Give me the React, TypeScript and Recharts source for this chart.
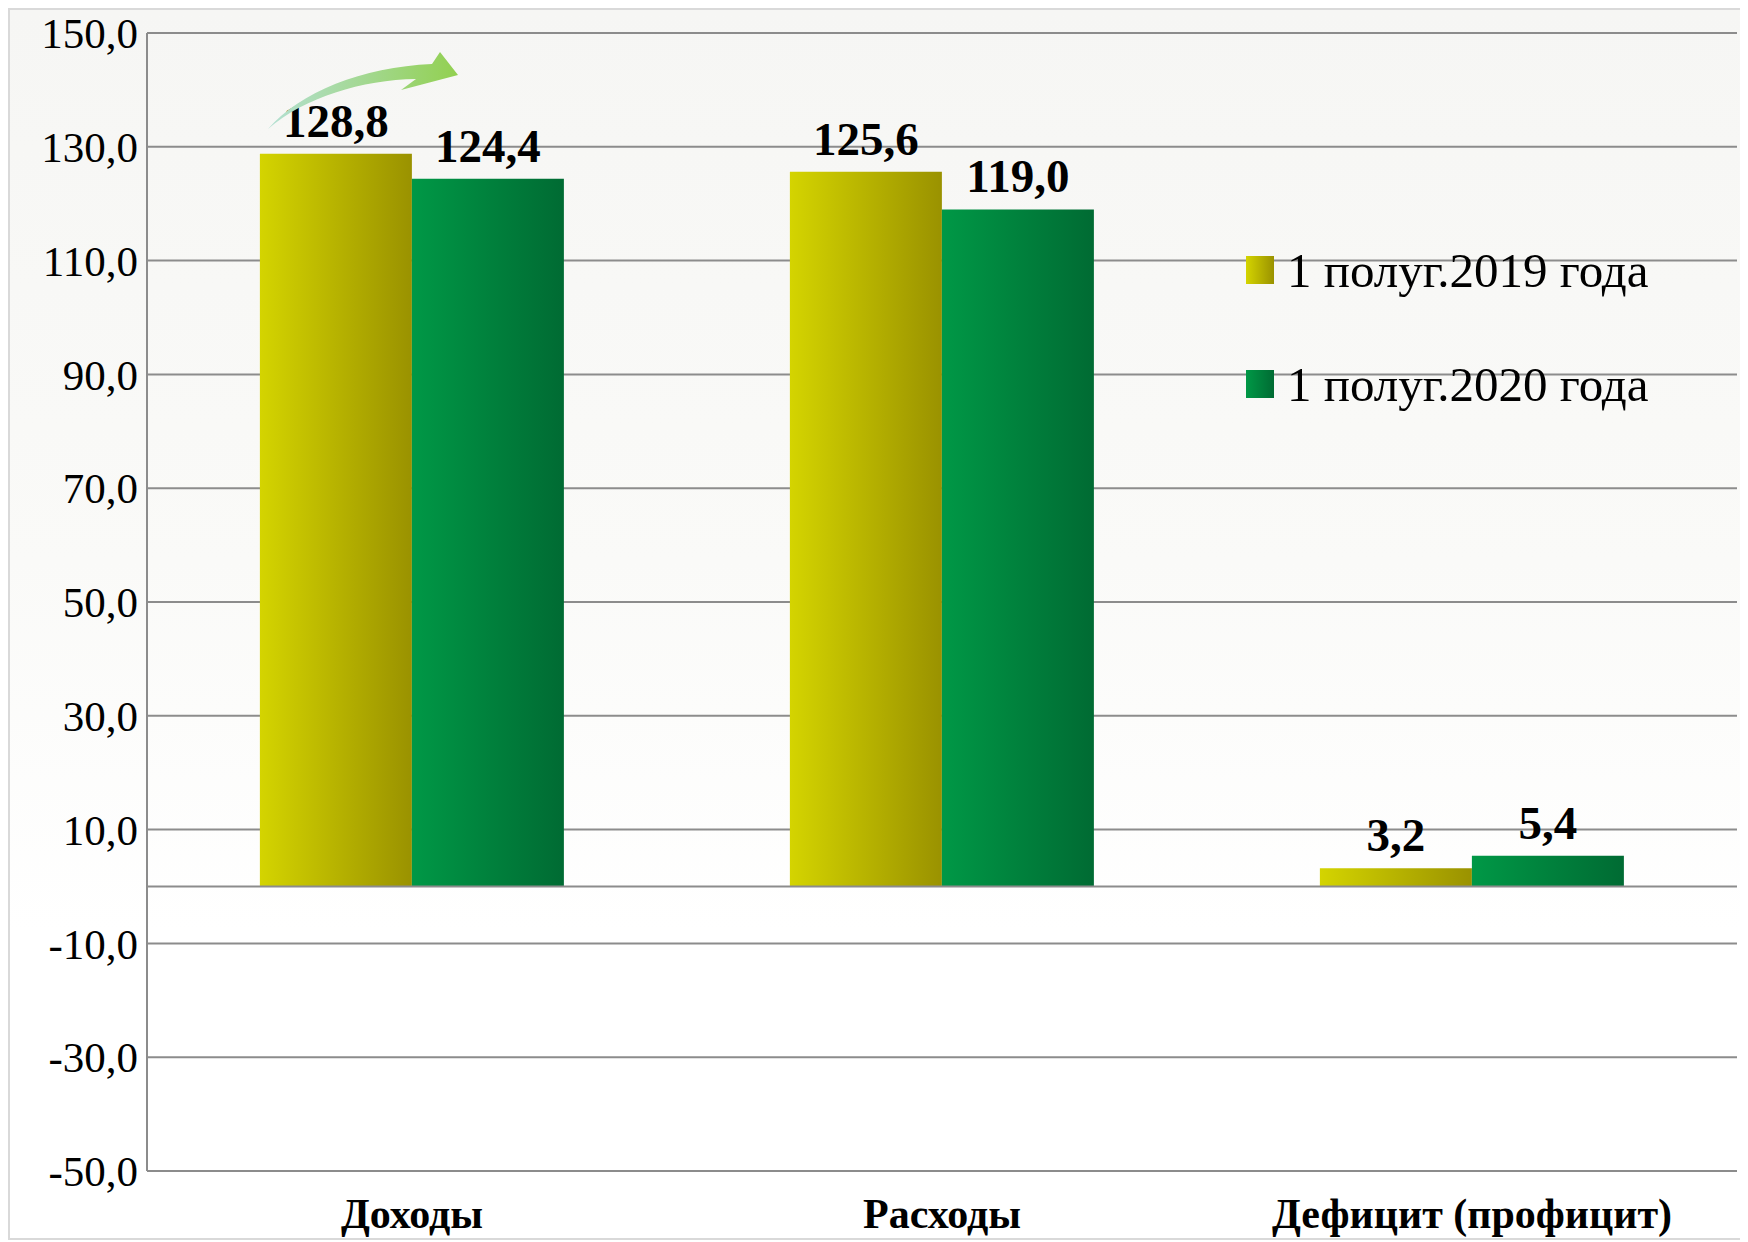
import React from 'react'
import { BarChart, Bar, XAxis, YAxis, CartesianGrid, ReferenceLine, LabelList, Legend } from 'recharts'

const categories = ['Доходы', 'Расходы', 'Дефицит (профицит)']
const values2019 = [128.8, 125.6, 3.2]
const values2020 = [124.4, 119.0, 5.4]
const seriesNames = ['1 полуг.2019 года', '1 полуг.2020 года']
const yTicks = [-50, -30, -10, 10, 30, 50, 70, 90, 110, 130, 150]

const data = categories.map((name, i) => ({ name, y2019: values2019[i], y2020: values2020[i] }))

const FONT = 'Liberation Serif'
const GRID = '#8c8c8c'

const fmt = (v: number) => v.toFixed(1).replace('.', ',')

const ValueLabel = (props: any) => {
  const { x, y, width, value } = props
  return (
    <text x={x + width / 2} y={y - 17} textAnchor="middle" fontFamily={FONT} fontWeight="bold" fontSize={47} fill="#000">
      {fmt(value)}
    </text>
  )
}

const CategoryTick = (props: any) => {
  const { x, y, payload } = props
  return (
    <text x={x} y={y + 57} textAnchor="middle" fontFamily={FONT} fontWeight="bold" fontSize={42} fill="#000">
      {payload.value}
    </text>
  )
}

const LegendBox = () => (
  <div style={{ fontFamily: FONT, fontSize: 49, color: '#000' }}>
    {seriesNames.map((n, i) => (
      <div key={n} style={{ display: 'flex', alignItems: 'center', height: 114, lineHeight: 1 }}>
        <div
          style={{
            width: 28,
            height: 28,
            marginRight: 13,
            background: i === 0 ? 'linear-gradient(to right, #d4d400, #9a9200)' : 'linear-gradient(to right, #009846, #006b33)',
          }}
        />
        <span style={{ whiteSpace: 'nowrap' }}>{n}</span>
      </div>
    ))}
  </div>
)

export default function App() {
  return (
    <div
      style={{
        position: 'relative',
        width: 1738,
        height: 1232,
        boxSizing: 'border-box',
        border: '2px solid #d9d9d9',
        background: 'linear-gradient(to bottom, #f6f6f4 0%, #fafaf8 45%, #ffffff 75%)',
      }}
    >
      <BarChart
        width={1734}
        height={1228}
        data={data}
        margin={{ top: 23, right: 7, left: 0, bottom: 0 }}
        barCategoryGap="21.3%"
        barGap={0}
      >
        <defs>
          <linearGradient id="g2019" x1="0" y1="0" x2="1" y2="0">
            <stop offset="0%" stopColor="#d4d400" />
            <stop offset="100%" stopColor="#9a9200" />
          </linearGradient>
          <linearGradient id="g2020" x1="0" y1="0" x2="1" y2="0">
            <stop offset="0%" stopColor="#009846" />
            <stop offset="100%" stopColor="#006b33" />
          </linearGradient>
        </defs>
        <CartesianGrid vertical={false} stroke={GRID} strokeWidth={2} />
        <XAxis
          dataKey="name"
          height={67}
          tickLine={false}
          tickSize={0}
          tickMargin={0}
          axisLine={{ stroke: GRID, strokeWidth: 2 }}
          tick={<CategoryTick />}
          interval={0}
        />
        <YAxis
          width={137}
          domain={[-50, 150]}
          ticks={yTicks}
          interval={0}
          tickLine={false}
          tickSize={0}
          tickMargin={9}
          axisLine={{ stroke: GRID, strokeWidth: 2 }}
          tickFormatter={fmt}
          tick={{ fontFamily: FONT, fontSize: 43, fill: '#000' }}
        />
        <ReferenceLine y={0} stroke={GRID} strokeWidth={2} />
        <Legend
          layout="vertical"
          align="center"
          verticalAlign="middle"
          wrapperStyle={{ left: 1236, top: 203, width: 470, height: 228 }}
          content={<LegendBox />}
        />
        <Bar dataKey="y2019" name={seriesNames[0]} fill="url(#g2019)" isAnimationActive={false}>
          <LabelList dataKey="y2019" content={<ValueLabel />} />
        </Bar>
        <Bar dataKey="y2020" name={seriesNames[1]} fill="url(#g2020)" isAnimationActive={false}>
          <LabelList dataKey="y2020" content={<ValueLabel />} />
        </Bar>
      </BarChart>
      <svg width={1738} height={1232} style={{ position: 'absolute', left: 0, top: 0, pointerEvents: 'none' }}>
        <defs>
          <linearGradient id="arrowGrad" x1="0" y1="0" x2="1" y2="0">
            <stop offset="0%" stopColor="#b4e0d4" />
            <stop offset="100%" stopColor="#92d050" />
          </linearGradient>
        </defs>
        <path
          d="M 258 119 C 290 82 352 57 422 54 L 430 42 L 448 65 L 391 80 L 406 69 C 352 70 295 87 258 119 Z"
          fill="url(#arrowGrad)"
        />
      </svg>
    </div>
  )
}
